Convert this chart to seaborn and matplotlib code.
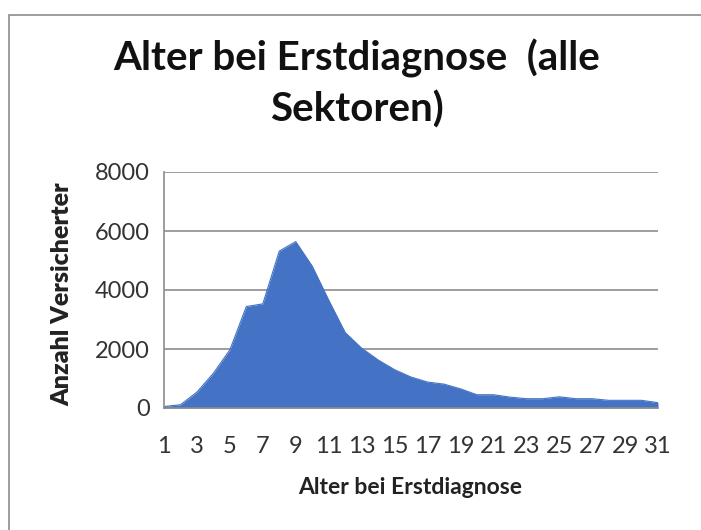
import numpy as np
import pandas as pd
import matplotlib
matplotlib.use("Agg")
import matplotlib.pyplot as plt
from matplotlib.patches import Rectangle
import seaborn as sns

# data
alter = list(range(1, 32))
anzahl = [50, 110, 540, 1180, 1970, 3440, 3530, 5320, 5640, 4810,
          3660, 2560, 2030, 1630, 1300, 1050, 880, 810, 650, 450,
          450, 370, 315, 315, 380, 315, 315, 260, 260, 260, 180]
yticks = [0, 2000, 4000, 6000, 8000]

df = pd.DataFrame({"Alter": alter, "Anzahl": anzahl})

sns.set_style("white")
plt.rcParams['font.family'] = ['Lato', 'DejaVu Sans']

fig = plt.figure(figsize=(7.01, 5.30), dpi=100)
ax = fig.add_axes([164/701, 1-408/530, 494/701, 236/530])

blue = "#4472C4"
sns.lineplot(data=df, x="Alter", y="Anzahl", color=blue, lw=0.8, ax=ax)
ax.fill_between(df["Alter"], df["Anzahl"], color=blue, lw=0)

ax.set_xlim(1, 31)
ax.set_ylim(0, 8000)
ax.set_yticks(yticks)
ax.set_xticks(alter)
ax.set_xticklabels([str(a) if a % 2 == 1 else "" for a in alter])
ax.yaxis.grid(True, color="#8c8c8c", lw=1.2)
ax.set_axisbelow(True)
for s in ["top", "right"]:
    ax.spines[s].set_visible(False)
for s in ["left", "bottom"]:
    ax.spines[s].set_color("#8c8c8c")
    ax.spines[s].set_linewidth(1.2)
ax.tick_params(axis="both", colors="#8c8c8c", length=6, width=1.0,
               labelcolor="#333333", labelsize=17)
ax.tick_params(axis="y", pad=4)
ax.tick_params(axis="x", pad=14)
ax.set_xlabel("Alter bei Erstdiagnose", fontsize=16.5, fontweight="bold",
              color="#222222")
ax.set_ylabel("Anzahl Versicherter", fontsize=18, fontweight="heavy",
              color="#222222")
ax.xaxis.set_label_coords((410-164)/494, (408-487)/236)
ax.xaxis.label.set_va("center")
ax.yaxis.set_label_coords((62-164)/494, (408-294)/236)
ax.yaxis.label.set_va("center")

fig.text(357/701, 1-58/530, "Alter bei Erstdiagnose  (alle", ha="center",
         va="center", fontsize=29, fontweight="bold", color="#111111")
fig.text(357/701, 1-110/530, "Sektoren)", ha="center", va="center",
         fontsize=29, fontweight="bold", color="#111111")

fig.patches.append(Rectangle((9/701, -0.1), 1.0, 1-15/530+0.1,
                             transform=fig.transFigure, fill=False,
                             edgecolor="#8c8c8c", lw=1.2))

fig.savefig("out.png", dpi=100)
